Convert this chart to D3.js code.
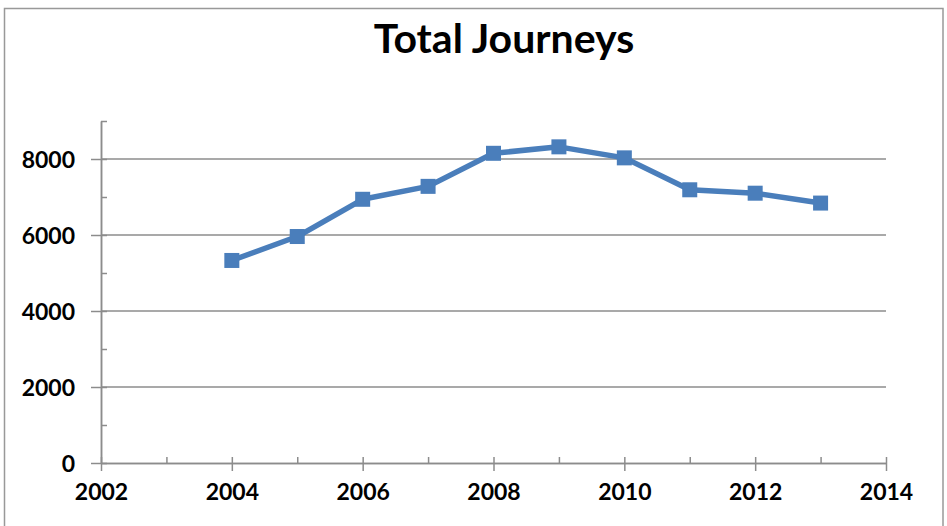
<!DOCTYPE html>
<html>
<head>
<meta charset="utf-8">
<script src="https://cdn.jsdelivr.net/npm/d3@7"></script>
<style>
  body { margin: 0; background: #fff; }
  svg { display: block; }
  .tick text { font-family: Lato, "Open Sans", sans-serif; font-weight: bold; font-size: 23px; fill: #000; }
</style>
</head>
<body>
<svg id="chart"></svg>
<script>
// data
const years = [2004, 2005, 2006, 2007, 2008, 2009, 2010, 2011, 2012, 2013];
const journeys = [5330, 5960, 6940, 7280, 8150, 8320, 8030, 7190, 7100, 6840];
const xTicks = [2002, 2004, 2006, 2008, 2010, 2012, 2014];
const xMinor = [2003, 2005, 2007, 2009, 2011, 2013];
const yTicks = [0, 2000, 4000, 6000, 8000];
const yMinor = [1000, 3000, 5000, 7000, 9000];

const width = 947, height = 526;
const margin = { top: 121, right: 61, bottom: 63, left: 101 };
const innerW = width - margin.left - margin.right;
const innerH = height - margin.top - margin.bottom;
const grey = '#8c8c8c';
const blue = '#4a7ebb';

const svg = d3.select('#chart')
    .attr('width', width)
    .attr('height', height);

// outer chart border
svg.append('rect')
    .attr('x', 4.5).attr('y', 8.5)
    .attr('width', 938.5).attr('height', 540)
    .attr('fill', 'none')
    .attr('stroke', '#999')
    .attr('stroke-width', 1.5);

svg.append('text')
    .attr('x', 504)
    .attr('y', 53)
    .attr('text-anchor', 'middle')
    .style('font-family', 'Lato, "Open Sans", sans-serif')
    .style('font-weight', 'bold')
    .style('font-size', '41px')
    .text('Total Journeys');

const chart = svg.append('g')
    .attr('transform', `translate(${margin.left}, ${margin.top})`);

const x = d3.scaleLinear().domain([2002, 2014]).range([0, innerW]);
const y = d3.scaleLinear().domain([0, 9000]).range([innerH, 0]);

// gridlines
chart.append('g')
    .selectAll('line')
    .data(yTicks.filter(d => d > 0))
    .join('line')
    .attr('x1', 0).attr('x2', innerW)
    .attr('y1', d => y(d)).attr('y2', d => y(d))
    .attr('stroke', grey)
    .attr('stroke-width', 1.5);

function styleAxis(g) {
    g.select('.domain').attr('stroke', grey).attr('stroke-width', 1.5);
    g.selectAll('.tick line').attr('stroke', grey).attr('stroke-width', 1.5);
}

// y axis: inside ticks on every 1000, outside ticks on majors
chart.append('g')
    .call(d3.axisLeft(y).tickValues(yTicks.concat(yMinor)).tickSize(-6).tickSizeOuter(0).tickFormat(''))
    .call(styleAxis);
chart.append('g')
    .call(d3.axisLeft(y).tickValues(yTicks).tickSize(10).tickSizeOuter(0).tickPadding(16).tickFormat(d3.format('d')))
    .call(styleAxis)
    .call(g => g.selectAll('.tick text').attr('dy', '0.36em'));

// x axis
chart.append('g')
    .attr('transform', `translate(0, ${innerH})`)
    .call(d3.axisBottom(x).tickValues(xTicks.concat(xMinor)).tickSize(-6).tickSizeOuter(0).tickFormat(''))
    .call(styleAxis);
chart.append('g')
    .attr('transform', `translate(0, ${innerH})`)
    .call(d3.axisBottom(x).tickValues(xTicks).tickSize(8).tickSizeOuter(0).tickPadding(13).tickFormat(d3.format('d')))
    .call(styleAxis);

const series = years.map((yr, i) => ({ year: yr, value: journeys[i] }));

const line = d3.line()
    .x(d => x(d.year))
    .y(d => y(d.value));

chart.append('path')
    .datum(series)
    .attr('fill', 'none')
    .attr('stroke', blue)
    .attr('stroke-width', 5.5)
    .attr('stroke-linejoin', 'round')
    .attr('d', line);

const m = 15;
chart.selectAll('.marker')
    .data(series)
    .join('rect')
    .attr('class', 'marker')
    .attr('x', d => x(d.year) - m / 2)
    .attr('y', d => y(d.value) - m / 2)
    .attr('width', m)
    .attr('height', m)
    .attr('fill', blue);
</script>
</body>
</html>
